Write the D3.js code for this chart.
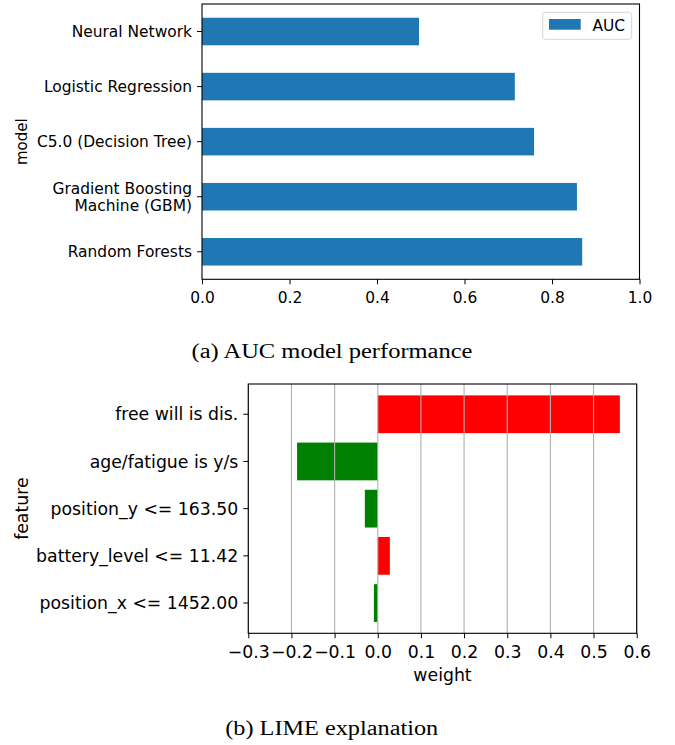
<!DOCTYPE html>
<html>
<head>
<meta charset="utf-8">
<script src="https://cdn.jsdelivr.net/npm/d3@7"></script>
<style>
  html, body { margin: 0; padding: 0; background: #fff; }
  svg { display: block; }
  text { font-family: "DejaVu Sans", sans-serif; fill: #000; }
</style>
</head>
<body>
<svg id="chart" width="675" height="745"></svg>
<script>
// ---- Data: panel (a) AUC model performance ----
const models = ["Neural Network", "Logistic Regression", "C5.0 (Decision Tree)", "Gradient Boosting\nMachine (GBM)", "Random Forests"];
const aucValues = [0.496, 0.715, 0.759, 0.857, 0.869];
const aucTicks = [0.0, 0.2, 0.4, 0.6, 0.8, 1.0];
const aucSeriesName = "AUC";

// ---- Data: panel (b) LIME explanation ----
const features = ["free will is dis.", "age/fatigue is y/s", "position_y <= 163.50", "battery_level <= 11.42", "position_x <= 1452.00"];
const weights = [0.561, -0.187, -0.030, 0.028, -0.009];
const weightTicks = [-0.3, -0.2, -0.1, 0.0, 0.1, 0.2, 0.3, 0.4, 0.5, 0.6];

const captions = ["(a) AUC model performance", "(b) LIME explanation"];

const svg = d3.select("#chart");
const minus = s => s.replace("-", "\u2212");

// ================= Panel (a) =================
(function () {
  const L = 202, R = 639.5, T = 4, B = 279.3;
  const fs = 15, sx = 1.03;
  const x = d3.scaleLinear().domain([0, 1]).range([L, R]);
  const y = d3.scaleBand().domain(models).range([T, B]).paddingInner(0.5).paddingOuter(0.25);
  const g = svg.append("g");

  g.selectAll("rect.bar").data(models).join("rect")
    .attr("class", "bar")
    .attr("x", x(0))
    .attr("y", d => y(d))
    .attr("width", (d, i) => x(aucValues[i]) - x(0))
    .attr("height", y.bandwidth())
    .attr("fill", "#1f77b4");

  // x axis
  const xa = g.append("g").attr("transform", `translate(0,${B})`)
    .call(d3.axisBottom(x).tickValues(aucTicks).tickFormat(d3.format(".1f")).tickSize(5).tickSizeOuter(0));
  xa.select(".domain").remove();
  xa.selectAll("line").attr("stroke", "#000").attr("stroke-width", 1);
  xa.selectAll("text").attr("font-size", fs).attr("dy", null).attr("y", 24)
    .attr("transform", `scale(${sx},1)`);

  // y axis
  const ya = g.append("g").attr("transform", `translate(${L},0)`)
    .call(d3.axisLeft(y).tickSize(5).tickSizeOuter(0));
  ya.select(".domain").remove();
  ya.selectAll("line").attr("stroke", "#000").attr("stroke-width", 1);
  ya.selectAll("text").each(function (d) {
    const t = d3.select(this);
    const lines = d.split("\n");
    t.text(null).attr("font-size", fs).attr("x", null).attr("dy", null)
      .attr("transform", `scale(${sx},1)`).attr("text-anchor", "end");
    const lh = 17.6;
    lines.forEach((ln, k) => {
      t.append("tspan").attr("x", -10 / sx)
        .attr("y", 5.6 + (k - (lines.length - 1) / 2) * lh)
        .text(ln);
    });
  });

  // frame
  g.append("rect").attr("x", L).attr("y", T).attr("width", R - L).attr("height", B - T)
    .attr("fill", "none").attr("stroke", "#000").attr("stroke-width", 1.1);

  // y label
  g.append("text").attr("transform", `translate(26.5,${(T + B) / 2}) rotate(-90) scale(1,${sx})`)
    .attr("text-anchor", "middle").attr("font-size", fs).text("model");

  // legend
  const lg = g.append("g");
  lg.append("rect").attr("x", 542.7).attr("y", 12.3).attr("width", 89).attr("height", 27)
    .attr("rx", 3).attr("fill", "#fff").attr("stroke", "#d6d6d6").attr("stroke-width", 1);
  lg.append("rect").attr("x", 549).attr("y", 19).attr("width", 31.7).attr("height", 10.7).attr("fill", "#1f77b4");
  lg.append("text").attr("transform", `translate(592.5,30.5) scale(${sx},1)`)
    .attr("font-size", fs).text(aucSeriesName);

  // caption
  svg.append("text").attr("x", 332).attr("y", 358.3).attr("text-anchor", "middle")
    .style("font-family", "'Liberation Serif', 'Times New Roman', serif")
    .attr("font-size", 20.5).attr("textLength", 281).attr("lengthAdjust", "spacingAndGlyphs")
    .text(captions[0]);
})();

// ================= Panel (b) =================
(function () {
  const L = 248.3, R = 636.7, T = 384, B = 633.3;
  const fs = 17.3;
  const x = d3.scaleLinear().domain([-0.3, 0.6]).range([L, R]);
  const y = d3.scaleBand().domain(features).range([T, B]).paddingInner(0.2).paddingOuter(0.241);
  const g = svg.append("g");

  g.selectAll("rect.bar").data(features).join("rect")
    .attr("class", "bar")
    .attr("x", (d, i) => x(Math.min(0, weights[i])))
    .attr("y", d => y(d))
    .attr("width", (d, i) => Math.abs(x(weights[i]) - x(0)))
    .attr("height", y.bandwidth())
    .attr("fill", (d, i) => weights[i] > 0 ? "#ff0000" : "#008000");

  // vertical grid lines (drawn over bars)
  g.selectAll("line.grid").data(weightTicks).join("line")
    .attr("class", "grid")
    .attr("x1", d => x(d)).attr("x2", d => x(d))
    .attr("y1", T).attr("y2", B)
    .attr("stroke", "#b0b0b0").attr("stroke-width", 1.1);

  const xa = g.append("g").attr("transform", `translate(0,${B})`)
    .call(d3.axisBottom(x).tickValues(weightTicks).tickFormat(d => minus(d3.format(".1f")(d))).tickSize(5).tickSizeOuter(0));
  xa.select(".domain").remove();
  xa.selectAll("line").attr("stroke", "#000").attr("stroke-width", 1);
  xa.selectAll("text").attr("font-size", fs).attr("dy", null).attr("y", 25);

  const ya = g.append("g").attr("transform", `translate(${L},0)`)
    .call(d3.axisLeft(y).tickSize(5).tickSizeOuter(0));
  ya.select(".domain").remove();
  ya.selectAll("line").attr("stroke", "#000").attr("stroke-width", 1);
  ya.selectAll("text").attr("font-size", fs).attr("x", -10).attr("dy", "0.36em");

  g.append("rect").attr("x", L).attr("y", T).attr("width", R - L).attr("height", B - T)
    .attr("fill", "none").attr("stroke", "#000").attr("stroke-width", 1.1);

  g.append("text").attr("x", (L + R) / 2).attr("y", 681).attr("text-anchor", "middle")
    .attr("font-size", fs).text("weight");

  g.append("text").attr("transform", `translate(28,${(T + B) / 2}) rotate(-90)`)
    .attr("text-anchor", "middle").attr("font-size", fs).text("feature");

  svg.append("text").attr("x", 331.7).attr("y", 735).attr("text-anchor", "middle")
    .style("font-family", "'Liberation Serif', 'Times New Roman', serif")
    .attr("font-size", 20.5).attr("textLength", 213).attr("lengthAdjust", "spacingAndGlyphs")
    .text(captions[1]);
})();
</script>
</body>
</html>
